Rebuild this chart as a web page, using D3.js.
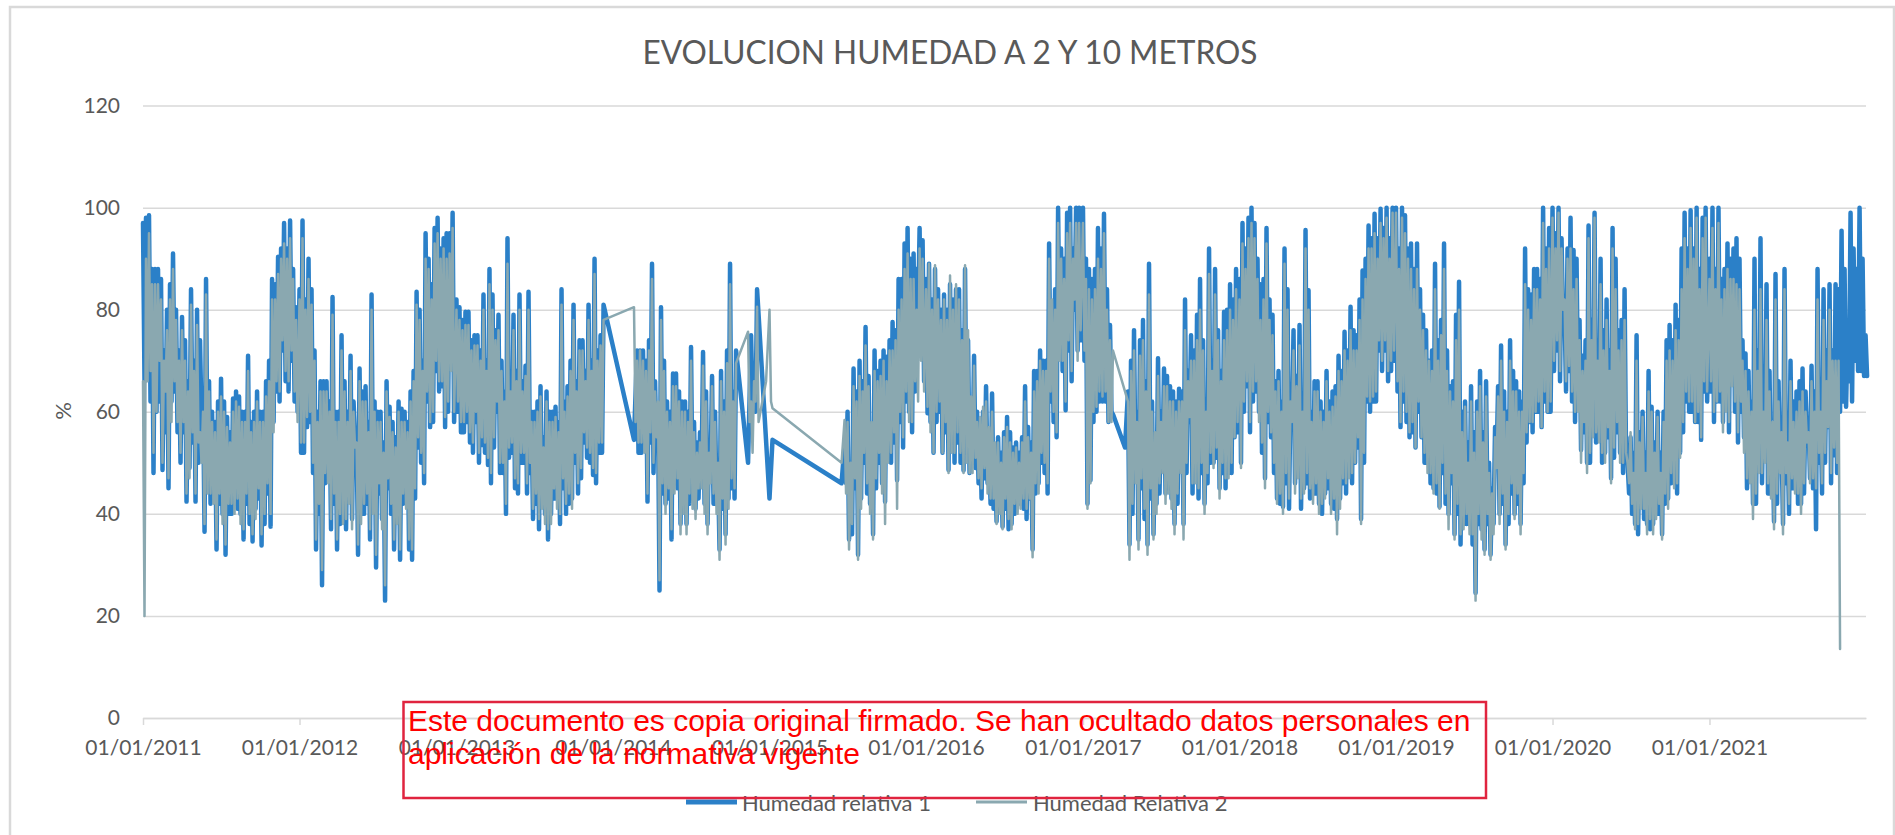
<!DOCTYPE html>
<html>
<head>
<meta charset="utf-8">
<script src="https://cdnjs.cloudflare.com/ajax/libs/d3/7.8.5/d3.min.js"></script>
<style>
    html, body { margin: 0; background: #fff; overflow: hidden; }
    text { font-family: Lato, sans-serif; fill: #595959; }
</style>
</head>
<body>
<svg id="chart" width="1895" height="835"></svg>
<script>
const years = [2011, 2012, 2013, 2014, 2015, 2016, 2017, 2018, 2019, 2020, 2021];
const yTicks = [0, 20, 40, 60, 80, 100, 120];
const seriesNames = ['Humedad relativa 1', 'Humedad Relativa 2'];
const noteLines = [
    'Este documento es copia original firmado. Se han ocultado datos personales en',
    'aplicación de la normativa vigente'
];

// two readings per week from 1 January, rhN and rhNb, null where there is no reading
const rh1_2011 = [97,98,98.5,48,88,88,48.6,72,45,85,91,56,72,78.6,42.4,66,84,42.4,80,58,36.5,86,42,60,33,62,66.5,32,59,40,62.6,41,63,35,60,71,34.6,60,64,33.8,60,66,37.5,86,64,90.4,72,97,64,97.5,62,80.5];
const rh1_2012 = [52,97.5,57,90,84,33,60,26,66,66,37,82.5,33,60,75,37,60,71,55,32,68.5,40,65,35,83,29.5,60,60,23,45,61,33,55,31,60.6,60,33,31,68,83.5,50,70,95,57,85,96,98,65,57,95,95,99];
const rh1_2013 = [60,80.5,56,79.6,79.6,52,75,75,53.5,83,49.6,88,83,60,79,48,40,94,52,79,44,83,50,69,83.5,39,60,37,65,55,35,60,60,61,38,84,40,65,70,81,44,74,74,51,81,47.6,90,52,75,81,null,null];
const rh1_2014 = [null,null,null,null,null,null,null,54.5,72,52,72,42.4,74,89,53,25,80.5,70,62,35,67.5,67.5,38,62,38,60,72.7,41,54,47,71.7,38,48,67,42,33,68,36,72,89,43,72,null,null,null,50,62,62,84,null,null,null];
const rh1_2015 = [43,54.5,null,null,null,null,null,null,null,null,null,null,null,null,null,null,null,null,null,null,null,null,null,null,46,53.5,35,49,68.5,32,70,50,76.6,67,36,72,50,70,42.4,70.8,50,77.6,46.6,86,53,93,96,56,91,78,96,93.6];
const rh1_2016 = [59.7,89,52,88,60,52,83,48.6,85,50,84,50,48.5,88,48,62,71,46,58,60,65,42,63.6,38.5,55,37.5,56,59,38,53,54,42,55,65,43,33,68,68,50,70,44,93,80,55,100,68,60.3,99,100,80,100,100];
const rh1_2017 = [100,42,46.6,86,60,96,62,98.8,58,77,59.5,null,null,null,53,34,70,76,35,74,78,34,89,36,55,70.5,50,68.5,45,65,38,62,64.5,38,82,58,75,48,79,86,42,60,92,50,88,45,68,79.6,48,85,55,88];
const rh1_2018 = [50,97,65,98,100,97,60,85,47,96,55,79,43,68,41.4,92,84,58,76,49,77,45,95.6,83.8,44,66,42,62,44,68,42,64,39,71,46,75.7,48,80.6,50,75,39,87.7,62,96.5,62,98.8,72,99.8,72,100,68,100];
const rh1_2019 = [100,57,100,98.5,55,93,53,93,55,79,50,70,45,89,41.4,78,93,40,65,36,79,85.5,38,62,38,65,24.5,62,68,33,66,32,45,50,65,73,34,60,74,40,66,38,62,92,58,83,60,88,57,100,60,96];
const rh1_2020 = [100,95,100,77.6,80,68,98,91.7,62,52.5,71,50,96.5,57,99,54.5,90,52,82,47,96,90,52,78,84,50,55,38,75,42,60,38,68,61,40,60,36,60,74,77,47,81,52,92,99,60,99.5,58,100,54.5,98,100];
const rh1_2021 = [64,100,62,100,58,62,93,65.5,92,94,90,55,71.4,49,42,90,50,94,52,85,44,38.5,87,50,38,88,55,70,45,64,42,68.5,55,47,69,37,88,62,84,57,85,51.5,85,60,95.5,61,75,99,70,68,100,67,75];

const rh1b_2011 = [66,90,62,88,60,62,86,56,80,62,64,80,50,56,74,49,54,70,50,74,64,46,66,44,58,42,40,62,40,56,42,64,40,60,42,38,58,41,43,60,38,44,70,58,85,62,92,66,92,70,88,60];
const rh1b_2012 = [84,52,82,58,48,72,40,66,46,48,62,42,60,38,40,66,44,39,62,56,40,64,42,58,42,62,44,39,54,66,40,58,40,62,42,43,58,64,43,53,80,46,62,90,58,68,64,92,94,60,70,58];
const rh1b_2013 = [82,56,78,58,54,74,58,50,72,52,70,46,53,76,48,70,64,51,66,45,68,50,66,44,48,60,42,62,43,40,64,40,43,43,58,45,62,42,43,50,66,47,54,68,50,70,46,72,52,null,null,null];
const rh1b_2014 = [null,null,null,null,null,null,null,null,52,72,54,70,54,48,66,60,44,42,43,60,46,45,64,42,62,42,43,58,43,56,42,64,54,42,60,48,41,62,43,45,64,null,null,null,null,null,75,60,null,null,null,null];
const rh1b_2015 = [null,null,null,null,null,null,null,null,null,null,null,null,null,null,null,null,null,null,null,null,null,null,null,null,null,46,60,36,45,64,43,66,44,42,56,45,68,46,72,52,74,54,76,58,86,62,60,90,64,88,72,66];
const rh1b_2016 = [86,58,82,58,84,80,56,80,54,82,54,84,76,52,74,50,49,60,43,47,46,55,41,52,42,52,41,37,56,40,42,52,41,39,57,54,44,46,72,48,70,62,58,84,72,92,90,72,66,92,72,74];
const rh1b_2017 = [70,90,88,58,88,62,92,62,84,60,null,null,null,null,null,64,40,48,60,45,39,66,43,62,42,44,60,44,67,43,64,42,50,64,48,68,44,72,43,48,74,46,50,70,51,76,48,45,80,48,82,56];
const rh1b_2018 = [86,60,92,56,62,64,90,52,86,58,82,48,66,42,62,46,41,64,46,67,41,62,46,43,60,44,66,40,60,45,62,41,65,43,68,44,72,46,76,53,82,50,90,60,94,62,94,68,96,66,94,70];
const rh1b_2019 = [64,92,62,58,92,56,88,60,84,50,76,46,72,44,74,48,42,72,46,66,40,34,60,38,54,34,56,38,37,56,38,50,38,57,40,42,64,38,44,68,42,64,46,54,84,56,88,60,86,62,92,60];
const rh1b_2020 = [68,72,66,94,64,92,62,58,90,78,56,74,50,78,54,74,50,76,55,72,51,56,76,48,50,44,40,52,36,56,39,52,37,38,54,40,52,42,43,46,74,44,78,56,62,92,60,92,58,88,64,62];
const rh1b_2021 = [90,58,88,62,86,88,56,90,60,54,60,74,45,68,62,42,72,46,64,44,68,56,42,66,54,46,40,45,62,42,66,44,64,58,45,64,50,44,50,72,46,72,48,84,62,88,66,62,92,88,68,90,67];

const rh2_2011 = [20,66,95,52,85,85,50,70,47,82,88,58,70,76,44,64,81,44,77,56,38,83,44,58,35,60,63,34,57,42,60,43,61,37,58,68,36,58,62,36,58,63,40,82,66,87,74,93,66,94,64,78];
const rh2_2012 = [54,94,59,86,81,35,58,29,64,64,39,79,35,58,72,39,58,68,53,34,66,42,62,37,80,32,58,58,26,47,59,35,53,33,58,58,35,33,66,81,52,68,90,58,82,93,95,66,59,90,91,96];
const rh2_2013 = [62,78,58,77,77,54,73,73,55,80,51,85,80,62,76,50,42,89,54,76,46,80,52,67,80,41,58,39,63,53,37,58,58,59,40,81,42,63,68,78,46,72,72,53,78,49,87,54,73,78,null,null];
const rh2_2014 = [null,null,null,null,null,null,null,80.5,70,54,70,44,72,86,55,27,78,68,60,37,65,65,36,60,36,58,70,39,52,45,69,36,46,65,40,31,66,34,69.5,85,45,69.5,null,null,null,75.7,62,62,80.6,null,null,66];
const rh2_2015 = [80,60.7,null,null,null,null,null,null,null,null,null,null,null,null,null,null,null,null,null,null,null,null,null,null,50,58.4,33,50,65,31,67,52,73,65,35,68,52,67,38,66,52,72,41,80,55,88,91,58,86,80,92,90];
const rh2_2016 = [61,89,52,88.7,62,52,82,48,86.7,52,85,52,48,88.7,48,63,69,47,59,61,62,43,60,38,54,37,55,57,37,52,53,41,54,62,43,31.5,64,66,52,68,46,90,82,56,97,70,62,95,97,82,97,97];
const rh2_2017 = [97,41,46,82,61,90,63,95,58,74,72,null,null,null,64,31,68,72,33,71,74,32,83,35,56,67,48,65,44,62,36,60,62,35,76,59,70,46,74,80,40,60,87,49,83,43,66,74,47,80,55,84];
const rh2_2018 = [49,93,66,94,97,94,58,78,45,93,56,75,42,66,40,89,80,58,72,47,73,44,92,80,42,64,40,60,43,66,40,61,36,68,47,72,47,76,50,72,38,82,63,92,63,95,74,97,74,98,70,99];
const rh2_2019 = [99,58,98,95,56,88,53,88,55,76,48,70,44,84,41,75,88,37,64,35,74,80,37,61,36,62,23,60,65,32,63,31,44,49,63,70,33,58,70,39,64,36,60,85,58,78,60,84,57,97,60,92];
const rh2_2020 = [98,92,99,80,82,69,92,84,60,50,68,48,94,55,98,54,85,50,78,46,92,84,50,74,78,50,56,37,70,41,59,36,64,60,39,59,35,58,70,72,45,76,51,84,94,62,96,58,98,55,94,98];
const rh2_2021 = [66,96,62,97,56,60,88,65,86,85,84,52,68,46,39,80,48,84,50,78,43,37,82,48,36,84,54,66,44,60,40,64,54,46,66,45,82,60,78,57,80,53,70,13.5];

const rh2b_2011 = [66,90,68,85,60,70,82,64,76,58,66,78,52,58,70,47,56,68,54,50,60,44,64,42,56,44,38,60,42,54,40,62,38,58,44,40,56,39,45,58,40,46,66,56,82,64,90,68,90,72,86,58];
const rh2b_2012 = [82,54,80,60,50,70,42,64,48,46,60,44,58,40,38,64,42,37,60,54,38,62,44,56,40,60,46,37,52,64,42,56,38,60,44,41,56,62,45,55,78,48,64,88,60,70,66,90,92,62,68,60];
const rh2b_2013 = [80,58,76,60,56,72,60,52,70,54,68,48,55,74,50,68,62,53,64,47,66,52,64,46,50,58,44,60,41,38,62,38,45,41,56,47,60,44,41,52,64,49,56,66,52,68,48,70,54,null,null,null];
const rh2b_2014 = [null,null,null,null,null,null,null,58,54,72,52,68,56,50,64,62,46,40,45,58,44,47,62,40,60,44,41,56,45,54,40,62,52,44,58,50,43,60,41,47,62,null,null,null,null,58,52,66,58,null,null,null];
const rh2b_2015 = [62,null,null,null,null,null,null,null,null,null,null,null,null,null,null,null,null,null,null,null,null,null,null,null,null,44,58,38,47,62,41,64,46,40,58,47,66,44,70,50,72,56,74,60,82,64,58,86,66,62,70,64];
const rh2b_2016 = [84,56,80,60,82,78,58,78,52,80,56,82,74,50,76,48,51,58,45,49,44,57,43,54,40,50,43,39,54,42,40,50,43,41,55,52,46,44,70,50,68,64,60,80,70,90,86,74,68,90,70,76];
const rh2b_2017 = [72,86,84,60,84,64,88,64,80,58,null,null,null,null,null,62,42,46,58,47,41,64,45,60,40,46,58,42,65,41,62,44,48,62,50,66,46,70,45,50,72,48,52,68,53,74,50,47,76,50,78,58];
const rh2b_2018 = [82,62,88,58,64,66,86,54,82,60,78,50,64,44,60,48,43,62,44,65,43,60,48,45,58,46,64,42,58,47,60,43,63,41,66,46,70,48,72,55,78,52,86,62,92,64,90,70,94,68,90,72];
const rh2b_2019 = [66,88,64,60,90,58,84,62,80,52,72,48,68,46,70,50,44,68,48,62,42,36,56,40,50,36,52,40,35,54,40,48,36,55,38,44,60,40,46,64,44,60,48,56,80,58,84,62,82,64,88,62];
const rh2b_2020 = [70,74,68,92,66,90,64,60,86,74,58,70,52,74,56,70,52,72,57,68,53,58,72,50,52,46,42,48,38,54,41,48,39,36,52,42,48,44,41,48,70,46,74,58,64,88,62,90,60,84,66,64];
const rh2b_2021 = [86,60,84,64,82,84,58,86,62,56,62,70,47,64,60,44,68,48,60,46,64,58,44,62,56,48,42,47,58,44,62,46,60,56,47,60,52,46,52,66,48,70,50,70];

const rh1ByYear = [rh1_2011, rh1_2012, rh1_2013, rh1_2014, rh1_2015, rh1_2016, rh1_2017, rh1_2018, rh1_2019, rh1_2020, rh1_2021];
const rh1bByYear = [rh1b_2011, rh1b_2012, rh1b_2013, rh1b_2014, rh1b_2015, rh1b_2016, rh1b_2017, rh1b_2018, rh1b_2019, rh1b_2020, rh1b_2021];
const rh2ByYear = [rh2_2011, rh2_2012, rh2_2013, rh2_2014, rh2_2015, rh2_2016, rh2_2017, rh2_2018, rh2_2019, rh2_2020, rh2_2021];
const rh2bByYear = [rh2b_2011, rh2b_2012, rh2b_2013, rh2b_2014, rh2b_2015, rh2b_2016, rh2b_2017, rh2b_2018, rh2b_2019, rh2b_2020, rh2b_2021];

//each week: the higher reading first, the lower half a week later
const toPoints = (byYear, bByYear) => byYear.flatMap((values, y) => values.flatMap((value, i) => {
    const weekStart = new Date(years[y], 0, 1 + i * 7);
    const second = bByYear[y][i];
    if (value === null) return [];
    if (second === null || second === undefined) return [{date: weekStart, value: value}];
    return [
        {date: weekStart, value: Math.max(value, second)},
        {date: new Date(+weekStart + 3.5 * 864e5), value: Math.min(value, second)}
    ];
}));

const svg = d3.select('#chart');
const plotLeft = 143, plotRight = 1866, plotTop = 105.6, plotBottom = 718;
const blue = '#2b80c8', grey = '#8aa8b0', gridColor = '#d9d9d9';

const x = d3.scaleTime()
    .domain([new Date(2011, 0, 1), new Date(2022, 0, 1)])
    .range([plotLeft, plotRight]);
const y = d3.scaleLinear()
    .domain([0, 120])
    .range([plotBottom, plotTop]);

//outer chart frame, its bottom edge runs off the page
svg.append('rect')
    .attr('x', 10)
    .attr('y', 7)
    .attr('width', 1884)
    .attr('height', 860)
    .attr('fill', 'none')
    .attr('stroke', gridColor)
    .attr('stroke-width', 2.5);

svg.append('text')
    .attr('x', 950)
    .attr('y', 64)
    .attr('text-anchor', 'middle')
    .attr('font-size', 33)
    .attr('textLength', 615)
    .attr('lengthAdjust', 'spacingAndGlyphs')
    .text('EVOLUCION HUMEDAD A 2 Y 10 METROS');

//y axis with gridlines
const yAxis = svg.append('g')
    .attr('transform', `translate(${plotLeft},0)`)
    .call(d3.axisLeft(y).tickValues(yTicks).tickSize(-(plotRight - plotLeft)).tickPadding(23));
yAxis.select('.domain').remove();
yAxis.selectAll('line').attr('stroke', gridColor).attr('stroke-width', 1.5);
yAxis.selectAll('text').attr('font-size', 21).style('font-family', 'Lato, sans-serif');

svg.append('text')
    .attr('transform', 'translate(71,411) rotate(-90)')
    .attr('text-anchor', 'middle')
    .attr('font-size', 22)
    .text('%');

//series
const line = d3.line()
    .x(d => x(d.date))
    .y(d => y(d.value));

svg.append('path')
    .datum(toPoints(rh1ByYear, rh1bByYear))
    .attr('d', line)
    .attr('fill', 'none')
    .attr('stroke', blue)
    .attr('stroke-width', 4.5)
    .attr('stroke-linejoin', 'round')
    .attr('stroke-linecap', 'round');

svg.append('path')
    .datum(toPoints(rh2ByYear, rh2bByYear))
    .attr('d', line)
    .attr('fill', 'none')
    .attr('stroke', grey)
    .attr('stroke-width', 2.5)
    .attr('stroke-linejoin', 'round')
    .attr('stroke-linecap', 'round');

//x axis, one label per year
const xAxis = svg.append('g')
    .attr('transform', `translate(0,${plotBottom})`)
    .call(d3.axisBottom(x)
        .tickValues(years.map(d => new Date(d, 0, 1)))
        .tickFormat(d3.timeFormat('%d/%m/%Y'))
        .tickSize(7)
        .tickSizeOuter(0)
        .tickPadding(15));
xAxis.select('.domain').attr('stroke', gridColor).attr('stroke-width', 1.5);
xAxis.selectAll('line').attr('stroke', gridColor).attr('stroke-width', 1.5);
xAxis.selectAll('text').attr('font-size', 21).style('font-family', 'Lato, sans-serif');

//legend
const legend = svg.append('g');
[[686, 737, 742, blue, 5], [976, 1027, 1033, grey, 3]].forEach((item, i) => {
    legend.append('line')
        .attr('x1', item[0])
        .attr('x2', item[1])
        .attr('y1', 802)
        .attr('y2', 802)
        .attr('stroke', item[3])
        .attr('stroke-width', item[4]);
    legend.append('text')
        .attr('x', item[2])
        .attr('y', 811)
        .attr('font-size', 22)
        .text(seriesNames[i]);
});

//red stamp on top of the chart
svg.append('rect')
    .attr('x', 403.5)
    .attr('y', 702)
    .attr('width', 1082.5)
    .attr('height', 96)
    .attr('fill', 'none')
    .attr('stroke', '#e0243f')
    .attr('stroke-width', 2.5);

svg.selectAll('text.note')
    .data(noteLines)
    .join('text')
    .attr('class', 'note')
    .attr('x', 408)
    .attr('y', (d, i) => 731 + i * 33)
    .attr('font-size', 30)
    .style('font-family', '"Liberation Sans", sans-serif')
    .style('fill', '#ff0000')
    .text(d => d);
</script>
</body>
</html>
